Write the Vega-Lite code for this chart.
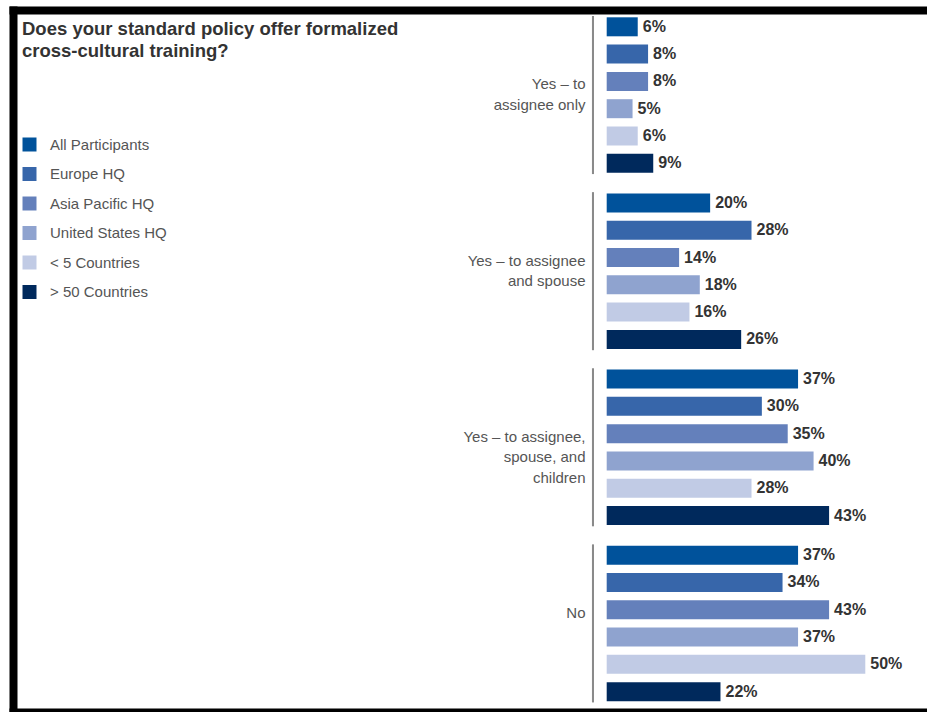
{
  "$schema": "https://vega.github.io/schema/vega-lite/v6.json",
  "autosize": {"type": "none"},
  "padding": {"left": 13, "top": 10, "right": 0, "bottom": 0},
  "width": 914,
  "height": 702,
  "background": "white",
  "config": {
    "font": "Liberation Sans",
    "view": {"stroke": null, "fill": "white"}
  },
  "title": {
    "text": ["Does your standard policy offer formalized", "cross-cultural training?"],
    "anchor": "start",
    "frame": "group",
    "orient": "top",
    "baseline": "top",
    "offset": -50,
    "dx": 9,
    "fontSize": 18.5,
    "fontWeight": "bold",
    "color": "#333333",
    "lineHeight": 22
  },
  "resolve": {"axis": {"x": "independent", "y": "independent"}},
  "data": {
    "values": [
      {"cat": "Yes – to assignee only", "series": "All Participants", "value": 0.06},
      {"cat": "Yes – to assignee only", "series": "Europe HQ", "value": 0.08},
      {"cat": "Yes – to assignee only", "series": "Asia Pacific HQ", "value": 0.08},
      {"cat": "Yes – to assignee only", "series": "United States HQ", "value": 0.05},
      {"cat": "Yes – to assignee only", "series": "< 5 Countries", "value": 0.06},
      {"cat": "Yes – to assignee only", "series": "> 50 Countries", "value": 0.09},
      {"cat": "Yes – to assignee and spouse", "series": "All Participants", "value": 0.20},
      {"cat": "Yes – to assignee and spouse", "series": "Europe HQ", "value": 0.28},
      {"cat": "Yes – to assignee and spouse", "series": "Asia Pacific HQ", "value": 0.14},
      {"cat": "Yes – to assignee and spouse", "series": "United States HQ", "value": 0.18},
      {"cat": "Yes – to assignee and spouse", "series": "< 5 Countries", "value": 0.16},
      {"cat": "Yes – to assignee and spouse", "series": "> 50 Countries", "value": 0.26},
      {"cat": "Yes – to assignee, spouse, and children", "series": "All Participants", "value": 0.37},
      {"cat": "Yes – to assignee, spouse, and children", "series": "Europe HQ", "value": 0.30},
      {"cat": "Yes – to assignee, spouse, and children", "series": "Asia Pacific HQ", "value": 0.35},
      {"cat": "Yes – to assignee, spouse, and children", "series": "United States HQ", "value": 0.40},
      {"cat": "Yes – to assignee, spouse, and children", "series": "< 5 Countries", "value": 0.28},
      {"cat": "Yes – to assignee, spouse, and children", "series": "> 50 Countries", "value": 0.43},
      {"cat": "No", "series": "All Participants", "value": 0.37},
      {"cat": "No", "series": "Europe HQ", "value": 0.34},
      {"cat": "No", "series": "Asia Pacific HQ", "value": 0.43},
      {"cat": "No", "series": "United States HQ", "value": 0.37},
      {"cat": "No", "series": "< 5 Countries", "value": 0.50},
      {"cat": "No", "series": "> 50 Countries", "value": 0.22}
    ]
  },
  "layer": [
    {
      "mark": {"type": "bar"},
      "encoding": {
        "y": {
          "field": "cat",
          "type": "nominal",
          "scale": {
            "domain": ["Yes – to assignee only", "Yes – to assignee and spouse", "Yes – to assignee, spouse, and children", "No"],
            "paddingInner": 0.07,
            "paddingOuter": 0.028,
            "align": 0.32
          },
          "axis": {
            "orient": "left",
            "title": null,
            "domain": false,
            "ticks": false,
            "grid": false,
            "offset": -580,
            "labelPadding": 8,
            "labelAlign": "right",
            "labelBaseline": "top",
            "labelOffset": -17.6,
            "labelLineHeight": 20.5,
            "labelFontSize": 15,
            "labelColor": "#555555",
            "labelLimit": 300,
            "labelExpr": "datum.label == 'Yes – to assignee only' ? ['Yes – to', 'assignee only'] : datum.label == 'Yes – to assignee and spouse' ? ['Yes – to assignee', 'and spouse'] : datum.label == 'Yes – to assignee, spouse, and children' ? ['Yes – to assignee,', 'spouse, and', 'children'] : datum.label"
          }
        },
        "yOffset": {
          "field": "series",
          "type": "nominal",
          "scale": {
            "domain": ["All Participants", "Europe HQ", "Asia Pacific HQ", "United States HQ", "< 5 Countries", "> 50 Countries"],
            "paddingInner": 0.304,
            "paddingOuter": 0.152
          }
        },
        "x": {
          "field": "value",
          "type": "quantitative",
          "scale": {"domain": [-1.1479, 0.6193], "zero": false, "nice": false},
          "axis": {
            "orient": "bottom",
            "title": null,
            "labels": false,
            "ticks": false,
            "grid": false,
            "domain": true,
            "domainColor": "#000000",
            "domainWidth": 8,
            "domainCap": "square"
          }
        },
        "color": {
          "field": "series",
          "type": "nominal",
          "scale": {
            "domain": ["All Participants", "Europe HQ", "Asia Pacific HQ", "United States HQ", "< 5 Countries", "> 50 Countries"],
            "range": ["#00529b", "#3766aa", "#6480bb", "#8fa3cf", "#c1cbe5", "#00295c"]
          },
          "legend": {
            "title": null,
            "orient": "none",
            "legendX": 9,
            "legendY": 127,
            "symbolType": "square",
            "symbolSize": 196,
            "symbolStrokeWidth": 0,
            "labelFontSize": 15,
            "labelColor": "#555555",
            "labelOffset": 13,
            "rowPadding": 13.5
          }
        }
      }
    },
    {
      "mark": {"type": "text", "align": "left", "baseline": "middle", "dx": 5, "fontSize": 16, "fontWeight": "bold", "color": "#333333"},
      "encoding": {
        "y": {"field": "cat", "type": "nominal", "axis": null},
        "yOffset": {"field": "series", "type": "nominal"},
        "x": {"field": "value", "type": "quantitative", "axis": null},
        "text": {"field": "value", "type": "quantitative", "format": ".0%"}
      }
    },
    {
      "transform": [{"filter": "datum.series == 'All Participants'"}],
      "mark": {"type": "bar", "color": "#8a8a8a", "height": {"band": 0.965}},
      "encoding": {
        "y": {
          "field": "cat",
          "type": "nominal",
          "axis": {
            "orient": "left",
            "title": null,
            "labels": false,
            "ticks": false,
            "grid": false,
            "offset": 0,
            "domain": true,
            "domainColor": "#000000",
            "domainWidth": 8,
            "domainCap": "square"
          }
        },
        "x": {
          "datum": -0.0285,
          "type": "quantitative",
          "axis": {
            "orient": "top",
            "title": null,
            "labels": false,
            "ticks": false,
            "grid": false,
            "domain": true,
            "domainColor": "#000000",
            "domainWidth": 8,
            "domainCap": "square"
          }
        },
        "x2": {"datum": -0.0245}
      }
    }
  ]
}
